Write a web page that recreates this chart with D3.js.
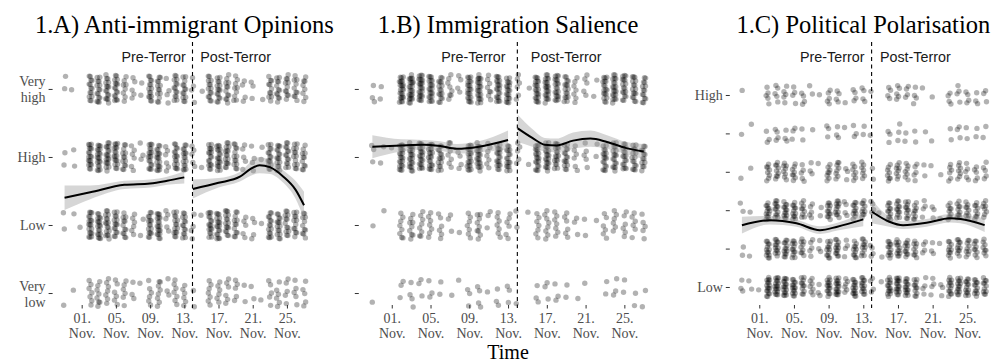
<!DOCTYPE html>
<html>
<head>
<meta charset="utf-8">
<script src="https://cdn.jsdelivr.net/npm/d3@7"></script>
<style>
  body { margin: 0; background: #fff; }
  svg { display: block; font-family: "Liberation Serif", "Times New Roman", serif; }
</style>
</head>
<body>
<svg id="chart" width="994" height="363"></svg>
<script>
// ---- data -------------------------------------------------------------
const days = [
  "2015-10-30", "2015-10-31", "2015-11-01", "2015-11-02", "2015-11-03", "2015-11-04",
  "2015-11-05", "2015-11-06", "2015-11-07", "2015-11-08", "2015-11-09", "2015-11-10",
  "2015-11-11", "2015-11-12", "2015-11-13", "2015-11-14", "2015-11-15", "2015-11-16",
  "2015-11-17", "2015-11-18", "2015-11-19", "2015-11-20", "2015-11-21", "2015-11-22",
  "2015-11-23", "2015-11-24", "2015-11-25", "2015-11-26", "2015-11-27"
];
const tickDays = ["2015-11-01", "2015-11-05", "2015-11-09", "2015-11-13", "2015-11-17", "2015-11-21", "2015-11-25"];
const terrorTime = "2015-11-13T23:00";
const periodLabels = ["Pre-Terror", "Post-Terror"];
const periodLabelTimes = ["2015-11-09T10:00", "2015-11-19T00:00"];

// 1.A anti-immigrant opinions: respondents per day and answer level
const levelsA = ["Very\nlow", "Low", "High", "Very\nhigh"];
const antiVeryLow  = [1,1,0,7,8,7,6,6,3,1,6,8,3,7,6,2,0,7,6,6,5,2,2,1,5,6,5,5,5];
const antiLow      = [2,1,1,19,19,17,15,12,6,2,16,19,5,15,14,4,1,17,18,16,12,5,4,1,15,15,13,12,11];
const antiHigh     = [2,2,0,19,20,19,18,13,6,3,18,18,6,16,16,5,1,17,19,16,13,5,4,2,15,16,14,13,11];
const antiVeryHigh = [2,1,0,14,15,16,16,8,5,2,15,13,4,14,13,4,1,14,15,12,9,4,3,1,11,12,11,10,8];
// smooth fit: [time, fit, half width of band]
const smoothA_pre = [
  ["2015-10-30T00:00", 2.40, 0.18], ["2015-11-02T00:00", 2.48, 0.10], ["2015-11-06T00:00", 2.59, 0.06],
  ["2015-11-09T00:00", 2.61, 0.06], ["2015-11-11T00:00", 2.65, 0.06], ["2015-11-13T00:00", 2.70, 0.09]
];
const smoothA_post = [
  ["2015-11-14T00:00", 2.53, 0.14], ["2015-11-17T00:00", 2.62, 0.07], ["2015-11-19T12:00", 2.71, 0.07],
  ["2015-11-20T17:00", 2.82, 0.10], ["2015-11-21T19:00", 2.88, 0.12], ["2015-11-23T00:00", 2.85, 0.10],
  ["2015-11-24T14:00", 2.71, 0.09], ["2015-11-26T00:00", 2.52, 0.13], ["2015-11-27T00:00", 2.29, 0.20]
];

// 1.B immigration salience
const levelsB = ["", "", "", ""];
const salience1 = [1,0,0,3,4,3,3,2,1,1,3,4,1,3,3,1,0,3,3,3,2,1,1,0,2,3,2,2,2];
const salience2 = [1,1,0,8,9,8,7,6,3,1,7,9,3,7,6,2,1,7,8,7,6,3,2,1,6,6,6,6,5];
const salience3 = [3,2,1,21,22,21,20,15,8,4,20,20,7,18,17,5,1,20,21,18,15,6,5,2,17,17,16,15,13];
const salience4 = [3,2,0,24,25,24,21,16,8,4,21,22,8,20,20,6,1,21,22,20,16,7,5,2,18,20,17,16,14];
const smoothB_pre = [
  ["2015-10-30T00:00", 3.15, 0.17], ["2015-11-02T00:00", 3.17, 0.09], ["2015-11-04T07:00", 3.18, 0.07],
  ["2015-11-06T00:00", 3.16, 0.07], ["2015-11-07T17:00", 3.12, 0.07], ["2015-11-10T00:00", 3.15, 0.08],
  ["2015-11-13T00:00", 3.25, 0.14]
];
const smoothB_post = [
  ["2015-11-14T00:00", 3.42, 0.20], ["2015-11-15T12:00", 3.28, 0.13], ["2015-11-16T19:00", 3.18, 0.10],
  ["2015-11-18T00:00", 3.17, 0.10], ["2015-11-19T17:00", 3.24, 0.12], ["2015-11-21T12:00", 3.27, 0.12],
  ["2015-11-23T05:00", 3.22, 0.10], ["2015-11-25T05:00", 3.13, 0.09], ["2015-11-27T00:00", 3.08, 0.11]
];

// 1.C political polarisation
const levelsC = ["Low", "", "", "", "", "High"];
const polar1 = [3,2,1,17,18,17,15,11,7,3,15,17,6,15,14,4,1,15,17,15,11,4,4,3,13,14,13,12,11];
const polar2 = [2,1,0,13,13,13,12,9,5,3,12,13,4,11,11,4,1,12,12,11,9,4,3,1,10,11,9,9,8];
const polar3 = [2,1,0,13,13,13,12,9,5,2,12,12,4,11,10,4,1,12,12,11,9,4,3,1,9,10,9,9,8];
const polar4 = [1,1,0,8,9,8,8,5,3,1,8,8,3,7,7,2,0,8,8,7,5,2,1,1,6,7,5,5,5];
const polar5 = [1,1,0,3,4,3,3,2,1,0,3,3,1,3,2,1,0,3,3,2,2,1,1,0,2,3,2,2,2];
const polar6 = [1,0,0,5,5,5,4,4,2,1,5,4,1,4,4,1,0,4,5,4,4,1,1,0,4,4,4,3,3];
const smoothC_pre = [
  ["2015-10-30T00:00", 2.61, 0.22], ["2015-11-02T05:00", 2.74, 0.11], ["2015-11-05T07:00", 2.66, 0.09],
  ["2015-11-08T00:00", 2.48, 0.10], ["2015-11-10T00:00", 2.57, 0.10], ["2015-11-13T00:00", 2.76, 0.18]
];
const smoothC_post = [
  ["2015-11-14T00:00", 2.96, 0.30], ["2015-11-16T00:00", 2.70, 0.13], ["2015-11-17T14:00", 2.61, 0.10],
  ["2015-11-20T07:00", 2.67, 0.10], ["2015-11-23T00:00", 2.79, 0.11], ["2015-11-24T05:00", 2.77, 0.11],
  ["2015-11-27T00:00", 2.61, 0.18]
];

// ---- layout -----------------------------------------------------------
const panelTop = 42, panelBottom = 305;
const xDomain = ["2015-10-28T14:24", "2015-11-28T09:36"];

const panels = [
  { title: "1.A) Anti-immigrant Opinions", levels: levelsA,
    counts: [antiVeryLow, antiLow, antiHigh, antiVeryHigh],
    smooth: [smoothA_pre, smoothA_post],
    left: 52.6, right: 316, yDomain: [0.824, 4.69], jitterY: 0.21, labelLevel: 4.47 },
  { title: "1.B) Immigration Salience", levels: levelsB,
    counts: [salience1, salience2, salience3, salience4],
    smooth: [smoothB_pre, smoothB_post],
    left: 358.8, right: 657.3, yDomain: [0.824, 4.69], jitterY: 0.21, labelLevel: 4.47 },
  { title: "1.C) Political Polarisation", levels: levelsC,
    counts: [polar1, polar2, polar3, polar4, polar5, polar6],
    smooth: [smoothC_pre, smoothC_post],
    left: 729.8, right: 996.8, yDomain: [0.531, 7.38], jitterY: 0.25, labelLevel: 6.98 }
];

const parseTime = s => new Date(s.length === 10 ? s + "T00:00:00Z" : s + ":00Z");
const fmtDay = d3.utcFormat("%d.");
const fmtMon = d3.utcFormat("%b.");
const DAY = 864e5;
const frac = v => v - Math.floor(v);

const svg = d3.select("#chart");

panels.forEach((p, pi) => {
  const x = d3.scaleUtc().domain(xDomain.map(parseTime)).range([p.left, p.right]);
  const y = d3.scaleLinear().domain(p.yDomain).range([panelBottom, panelTop]);
  const g = svg.append("g").attr("class", "panel");

  // jittered responses (deterministic low-discrepancy jitter)
  const pts = [];
  p.counts.forEach((row, li) => {
    row.forEach((n, di) => {
      const t = parseTime(days[di]).getTime();
      for (let i = 0; i < n; i++) {
        const jx = frac(0.5 + (i + 1) * 0.7548776662 + di * 0.31 + li * 0.17 + pi * 0.23) - 0.5;
        const jy = frac(0.5 + (i + 1) * 0.5698402910 + di * 0.53 + li * 0.29 + pi * 0.11) - 0.5;
        pts.push({ t: t + jx * 0.42 * DAY, v: li + 1 + jy * 2 * p.jitterY });
      }
    });
  });
  g.append("g").selectAll("circle")
    .data(pts)
    .join("circle")
    .attr("cx", d => x(d.t))
    .attr("cy", d => y(d.v))
    .attr("r", 2.7)
    .attr("fill", "#000")
    .attr("fill-opacity", 0.3);

  // smooth + confidence band, separately before/after the attack
  const area = d3.area()
    .x(d => x(parseTime(d[0])))
    .y0(d => y(d[1] - d[2]))
    .y1(d => y(d[1] + d[2]))
    .curve(d3.curveMonotoneX);
  const line = d3.line()
    .x(d => x(parseTime(d[0])))
    .y(d => y(d[1]))
    .curve(d3.curveMonotoneX);
  p.smooth.forEach(s => {
    g.append("path").attr("d", area(s)).attr("fill", "#999").attr("fill-opacity", 0.4);
    g.append("path").attr("d", line(s)).attr("fill", "none")
      .attr("stroke", "#000").attr("stroke-width", 2);
  });

  // terror event
  const xt = x(parseTime(terrorTime));
  g.append("line")
    .attr("x1", xt).attr("x2", xt)
    .attr("y1", panelTop).attr("y2", panelBottom + 3)
    .attr("stroke", "#000").attr("stroke-width", 1.1)
    .attr("stroke-dasharray", "4,3.5");
  g.selectAll(".period")
    .data(periodLabels)
    .join("text")
    .attr("class", "period")
    .attr("x", (d, i) => x(parseTime(periodLabelTimes[i])))
    .attr("y", y(p.labelLevel))
    .attr("dy", "0.35em")
    .attr("text-anchor", "middle")
    .style("font-family", "'Liberation Sans', Arial, sans-serif")
    .style("font-size", "14.3px")
    .attr("fill", "#1a1a1a")
    .text(d => d);

  // axes
  const xAxis = g.append("g")
    .attr("transform", `translate(0,${panelBottom})`)
    .call(d3.axisBottom(x).tickValues(tickDays.map(parseTime)).tickSize(3.5).tickFormat(""));
  xAxis.select(".domain").remove();
  xAxis.selectAll(".tick line").attr("stroke", "#333");
  xAxis.selectAll(".tick text").each(function(d) {
    const t = d3.select(this).attr("dy", null).attr("y", null);
    t.append("tspan").attr("x", 0).attr("y", 18).text(fmtDay(d));
    t.append("tspan").attr("x", 0).attr("y", 33).text(fmtMon(d));
  });
  xAxis.selectAll("text")
    .attr("fill", "#4d4d4d")
    .style("font-family", "'Liberation Serif', 'Times New Roman', serif")
    .style("font-size", "14px");

  const yAxis = g.append("g")
    .attr("transform", `translate(${p.left},0)`)
    .call(d3.axisLeft(y).tickValues(d3.range(1, p.levels.length + 1)).tickSize(4).tickPadding(3).tickFormat(""));
  yAxis.select(".domain").remove();
  yAxis.selectAll(".tick line").attr("stroke", "#333");
  yAxis.selectAll(".tick text").each(function(d) {
    const lines = p.levels[d - 1].split("\n");
    const t = d3.select(this).attr("dy", null);
    lines.forEach((s, k) => {
      t.append("tspan").attr("x", -7)
        .attr("y", lines.length === 1 ? 5 : (k === 0 ? -3 : 13))
        .text(s);
    });
  });
  yAxis.selectAll("text")
    .attr("fill", "#4d4d4d")
    .style("font-family", "'Liberation Serif', 'Times New Roman', serif")
    .style("font-size", "14px");

  // title
  svg.append("text")
    .attr("x", (p.left + p.right) / 2)
    .attr("y", 33)
    .attr("text-anchor", "middle")
    .style("font-size", "24.5px")
    .attr("fill", "#000")
    .text(p.title);
});

svg.append("text")
  .attr("x", (panels[1].left + panels[1].right) / 2)
  .attr("y", 359)
  .attr("text-anchor", "middle")
  .style("font-size", "20px")
  .attr("fill", "#000")
  .text("Time");
</script>
</body>
</html>
